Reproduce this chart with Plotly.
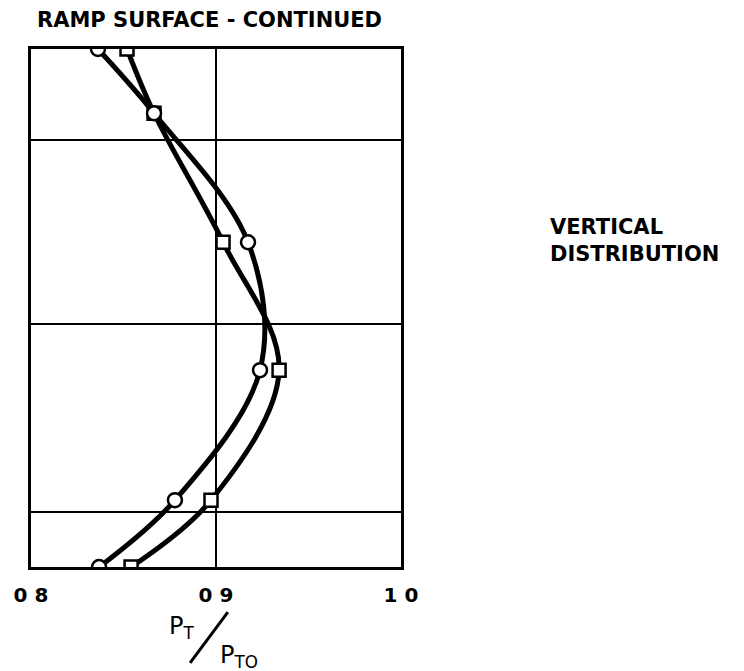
import plotly.graph_objects as go

# Vertical distribution of total-pressure ratio on the ramp surface
height_frac = [0.0, 0.129, 0.380, 0.627, 0.876, 1.0]
pt_ratio_circle = [0.8368, 0.8778, 0.9238, 0.9173, 0.8665, 0.8362]
pt_ratio_square = [0.8541, 0.8973, 0.9341, 0.9038, 0.8665, 0.8519]

x_ticks = [0.8, 0.9, 1.0]
x_tick_text = ["0 8", "0 9", "1 0"]
y_grid = [0.106, 0.469, 0.824]

INK = "#000000"
FONT = "DejaVu Sans"

fig = go.Figure()

# smooth curves first, markers on top so the open symbols stay clear
for xs in (pt_ratio_square, pt_ratio_circle):
    fig.add_trace(go.Scatter(
        x=xs, y=height_frac, mode="lines",
        line=dict(color=INK, width=5, shape="spline", smoothing=1.0),
        hoverinfo="skip", showlegend=False))

fig.add_trace(go.Scatter(
    x=pt_ratio_square, y=height_frac, mode="markers",
    marker=dict(symbol="square", size=13, color="white",
                line=dict(color=INK, width=2.5)),
    showlegend=False))
fig.add_trace(go.Scatter(
    x=pt_ratio_circle, y=height_frac, mode="markers",
    marker=dict(symbol="circle", size=14, color="white",
                line=dict(color=INK, width=2.5)),
    showlegend=False))

fig.update_layout(
    width=744, height=671,
    margin=dict(l=31, r=343, t=49, b=104),
    paper_bgcolor="white", plot_bgcolor="white",
    font=dict(family=FONT, color=INK),
    xaxis=dict(
        range=[0.8, 1.0], tickvals=x_ticks,
        ticktext=[f"<b>{t}</b>" for t in x_tick_text],
        showgrid=True, gridcolor=INK, gridwidth=2,
        showline=True, linecolor=INK, linewidth=3, mirror=True,
        zeroline=False, ticks="", ticklabelstandoff=8,
        tickfont=dict(family=FONT, size=20, color=INK),
        fixedrange=True),
    yaxis=dict(
        range=[0, 1], tickvals=y_grid, showticklabels=False,
        showgrid=True, gridcolor=INK, gridwidth=2,
        showline=True, linecolor=INK, linewidth=3, mirror=True,
        zeroline=False, ticks="", fixedrange=True),
)

fig.add_annotation(
    text="<b>RAMP SURFACE - CONTINUED</b>", xref="paper", yref="paper",
    x=0.482, y=1.056, showarrow=False, xanchor="center", yanchor="middle",
    font=dict(family=FONT, size=21, color=INK))

fig.add_annotation(
    text="<b>VERTICAL<br>DISTRIBUTION</b>", xref="paper", yref="paper",
    x=1.397, y=0.630, showarrow=False, xanchor="left", yanchor="middle",
    align="left", font=dict(family=FONT, size=21, color=INK))

# axis title P_T / P_T0 built from two pieces and a slash
fig.add_annotation(
    text="P<sub>T</sub>", xref="paper", yref="paper",
    x=0.406, y=-0.117, showarrow=False, xanchor="center", yanchor="middle",
    font=dict(family=FONT, size=24, color=INK))
fig.add_annotation(
    text="P<sub>TO</sub>", xref="paper", yref="paper",
    x=0.562, y=-0.172, showarrow=False, xanchor="center", yanchor="middle",
    font=dict(family=FONT, size=24, color=INK))
fig.add_shape(
    type="line", xref="paper", yref="paper",
    x0=0.430, y0=-0.185, x1=0.532, y1=-0.087,
    line=dict(color=INK, width=3))

fig.write_html("out.html")
